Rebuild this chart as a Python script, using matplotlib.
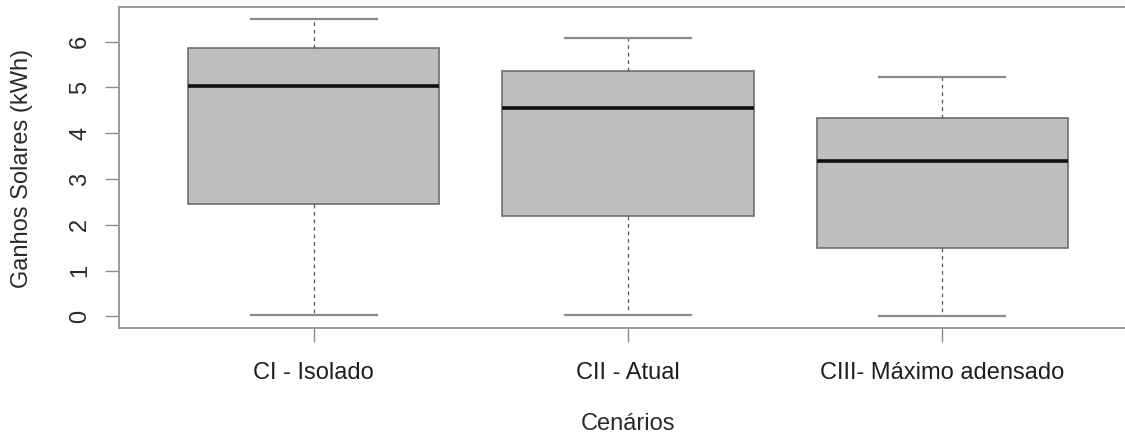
import matplotlib
matplotlib.use("Agg")
import matplotlib.pyplot as plt

# Solar gains per scenario (kWh): five-number summaries
categories = ["CI - Isolado", "CII - Atual", "CIII- Máximo adensado"]
whisker_low = [0.02, 0.02, 0.00]
q1 = [2.46, 2.20, 1.49]
median = [5.03, 4.56, 3.40]
q3 = [5.86, 5.36, 4.34]
whisker_high = [6.49, 6.08, 5.23]
y_ticks = [0, 1, 2, 3, 4, 5, 6]

plt.rcParams["font.family"] = ["Liberation Sans", "DejaVu Sans"]

fig = plt.figure(figsize=(11.25, 4.41), dpi=100)
ax = fig.add_axes([119 / 1125, 1 - 328.3 / 441, (1137 - 119) / 1125, (328.3 - 7.3) / 441])

stats = []
for i, name in enumerate(categories):
    stats.append(dict(label=name, whislo=whisker_low[i], q1=q1[i], med=median[i],
                      q3=q3[i], whishi=whisker_high[i], fliers=[]))

edge = "#6e6e6e"
ax.bxp(stats, positions=[1, 2, 3], widths=0.8, capwidths=0.4,
       showfliers=False, patch_artist=True,
       boxprops=dict(facecolor="#bebebe", edgecolor=edge, linewidth=1.2),
       medianprops=dict(color="#111111", linewidth=2.6, solid_capstyle="butt"),
       whiskerprops=dict(color="#555555", linewidth=0.9, linestyle=(0, (3, 3))),
       capprops=dict(color="#8a8a8a", linewidth=1.6))

ax.set_xlim(0.38, 3.62)
ax.set_ylim(-0.26, 6.75)

ax.set_yticks(y_ticks)
ax.set_yticklabels([str(t) for t in y_ticks], rotation=90, va="center")
ax.set_xticks([1, 2, 3])
ax.set_xticklabels(categories)

for s in ax.spines.values():
    s.set_color("#9a9a9a")
    s.set_linewidth(1.4)

fs = 17
ax.tick_params(axis="y", length=10, width=1.0, color="#8a8a8a", pad=10,
               labelsize=fs, labelcolor="#2a2a2a")
ax.tick_params(axis="x", length=10, width=1.0, color="#8a8a8a", pad=14,
               labelsize=fs, labelcolor="#1e1e1e")

fig.text(22 / 1125, 1 - 168 / 441, "Ganhos Solares (kWh)", rotation=90,
         ha="center", va="center", fontsize=fs, color="#2a2a2a")
fig.text(628 / 1125, 1 - 424 / 441, "Cenários", ha="center", va="center",
         fontsize=fs, color="#2a2a2a")

fig.savefig("out.png", dpi=100)
